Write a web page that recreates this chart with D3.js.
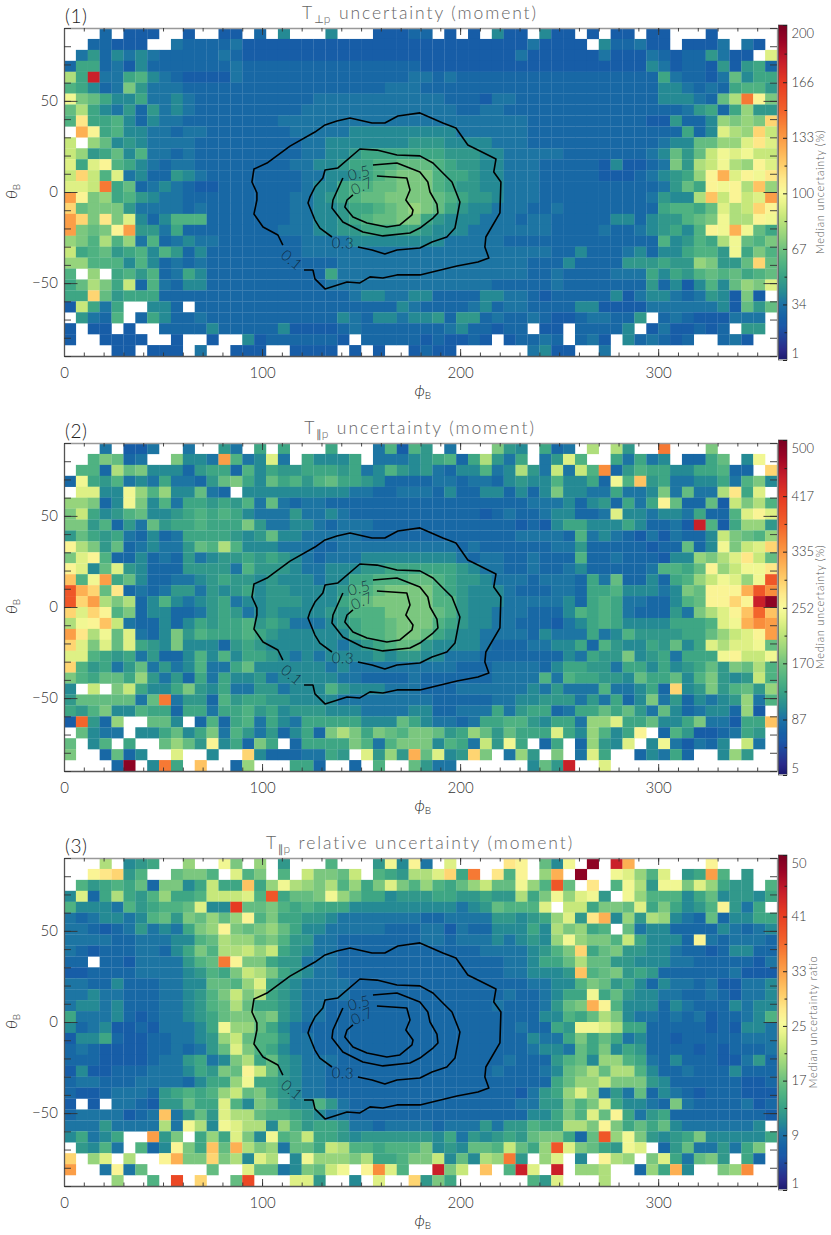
<!DOCTYPE html>
<html>
<head>
<meta charset="utf-8">
<title>Proton temperature uncertainty maps</title>
<script src="https://cdn.jsdelivr.net/npm/d3@7"></script>
<style>
  body { margin: 0; background: #fff; }
  text { font-family: Lato, "Open Sans", sans-serif; font-weight: 300; }
</style>
</head>
<body>
<div id="chart"></div>
<script>
// Each row is one theta bin, top (+90) to bottom (-90), 60 phi bins of 6 deg.
// A character is a reading off the colour bar, base 36, 0 = bottom of bar, z = top. '.' = no data.
const perpRows = [
  "...5.444..4..44.5.7...7...4445 5.4.4.744.744.4.44.44...4.....",
  "..55444..655556444444444444444 44444444464444.755644.4446.64.",
  ".68576765555565444444444444444 4444444464444446444654558644.g",
  "59956475555555 6 555555555555555 4444444444444444444 76455484895",
  "e9v669a765 4444 6 555555555555556 656 55555555555555555 96554 6b799",
  "a9756c8666 55555555555555555666 55555555555555555555 7765659aa8",
  "hcb97796676 5555555555666666666 66555466555555555555 77765bepic",
  "be97685867 6 5555555556666666666 66655665555555555555 5568959d88",
  "aj99a75766 55555555666666666666 66666666655555555554 48557dcdck",
  ".mi9a77665 66555 555566666777777 77766666655555555555 55957gedkf",
  "f.db7876666 5555 555556677777778 88777766655555555555 677bbddgjg",
  "fd89b7a665 65555 555556677899999 99888776666655555556 7b8bfhghff",
  "g9gia976566 5555 55556677899aabb ba98877666 5555547445 6c8efhedig",
  "fkfag6755876555 55555667789abcc ca99877666 5555544456 789dimgihj",
  "ggfp9b5676 54455 555556779aabbcc ca98877666 5555555555 68b9ihield",
  "nicd9a8766 55555 555566789abbccc cba9887666 5555555556 877elfifgn",
  "kbccc86666 565 5555556677899abcd cb98776665 5655555555 9aa9bgefki",
  "nkcjcg757a aa55 55555667789abbcc 9877766656 6555557757 88abcheeih",
  "ncbcin8869 5555 5555666778899999 8777666666 6555565567 897aihmhb9",
  "dcaead6a56 7665 5555556666777777 7766666555 5555555555 a78a9ehbac",
  "f9ab89a7a8 575 5555555 6666666666 6666666666 6557555675 779aa8h9ca",
  "ddaaa7a756 565 5555555555 6666666 6666666665 5575555888 988dc88bkb",
  "a.d.9a8a56 97 5555555555 9 6666666 6666666665 5655556669 798abab9ab",
  "9bec9f5a65 77 5555555555 66666666 6666665555 5655555558 5747a7bdcg",
  "99kb899955 55 555555555555 677667 7555577665 4555557467 7656874c4.",
  "4f969..775 .55 555555555555555 76 5555675665 5557744446 6666674b8b",
  ".865a.5975 565 5555555555 7657767 7858856556 544566558. 565444666.",
  "4.44.4..55 5575555574 4445655555 556755455. 44.55557.4 644545.88.",
  "4..4444..4 ..4..74555 5554.55555 454454.455 65.564.756 545..564..",
  "....44.444 .6..444..4 444.4.4..4 544......6 744..6.... .........."
];
const paraRows = [
  "...6.446..6..86.9.9...9...6a4a 8.6...c87.956.e.e8..p...c.....",
  "..acb56..c776na67g6.97779.6667 89a59e869.68ga..96967.559b.7h.",
  ".aa5ebc777 58995a7988 9998967a87 86577a67e8 6f6fao58a9 97799a55.k",
  "5h98a67696 658bc97b9a 8ab9987555 5665665787 7a7795hal8 9667796ac7",
  ".gg77hdad7 7b65.77777 7777665566 6575577575 7c77669667 c6b66ej9g.",
  "ddc57hc7a6 99898a6b65 6655555555 5555555556 6675785969 ib55b4fcea",
  "cf978ab778 9a9a976668 6676555555 5555545655 677556g776 776955agig",
  "cc8a586b89 9a999c8667 7656665555 5555555545 4799777975 564va49dd8",
  "8b98965756 9999878b77 6666655555 5555555566 665a676546 46557fcbad",
  "iec8b56766 8baea77766 6556666666 6665655555 5668555554 55b57hcfgk",
  "cgia557565 8678898987 6566677777 7776566556 555a556555 477dcegjfb",
  "ig7bg87555 88886a8887 6677788999 9998766556 5567555556 aa9bidfhhj",
  "lahn9b7556 6789887877 767799aaab ba98876665 666596b557 59adfhgdhr",
  "rmkbj56568 8687897887 7778aabccc ca98777655 566599a777 67cbiiimro",
  "rknece57a7 6789677888 7779abcccc caa8777666 66759a9665 57abiikivy",
  "kgkiac5775 5689867877 7788aaaccc cba8776665 557a9a9655 586cegilql",
  "ehilf65575 79899a8986 66789aabcc ca98776655 54679a9777 7999aghmon",
  "njehbg657c 8a999a9877 77779aabcc b987766665 7666967a88 8899bdfgin",
  "kgcgbg987c 7775898777 7776789abb 8777765556 67795a8779 8b79gegghb",
  "gga9896855 7a7a799876 7677778788 7766655555 5576988c78 96999hiffh",
  "ka8968b686 7a669b7777 7767666666 6665556666 5799886997 9789b8cbea",
  "ca9bb9d868 5969778677 7776655556 5555556666 a6a99887b9 9b7ac878fa",
  "7.f.cf9779 c879668867 77a8777666 5556666667 68666a6679 5k78c8ab8d",
  "8bbbbb6bp6 885a899887 7776666666 6555556677 888686957c 6857678d6a",
  "98ac77a995 99699a8978 8877766667 7556669689 95699b9b86 b756775d4.",
  "4q85d..bb7 .5a59a6976 99999777b9 7665699aa8 7996ddg99b 779c66499l",
  ".b766.779b 79c6a86857 95cec9cbac cb89db8b99 9g97da79i. 5a8445698.",
  "b.7a.9..bd b8i795c9.5 9999ca6acc c7a96f8h9. 59.5d87g.7 h64657.f6.",
  "c..5b57..g ..7..k7555 6698.g8d8m bg78kc.6d8 .c.6g9..57 695..7d8..",
  "....5y.7p9 .l..5d...9 95..5.a..b 866......7 b8v..g.... .........."
];
const ratioRows = [
  "...e.789..d..hc.d.8...a...8h7i 6.g....ji.b7h.y.vm......i.....",
  "..ijk8a..b cca.gac.a. fccbf.a98e egk9p.jai. dm.y..hgda g.89na.8..",
  ".a89a9b5cc 79f99l9dhe dcead9cgca da9bdfbbhd arb.j.ahe8 hhcgd988.a",
  "7g59e98ad9 9afffgar9b bchdb99788 89988988e9 chdgh8.hda aa79b78879",
  "a7776a89aa bg77tbbca9 a999777777 777678baaa g.ff9ccbg9 c978ai869.",
  "6567767ab8 cbdbdiac99 8876666666 5566668878 9dg8jm7d8e d765b57799",
  "6654568676 9cdicbcdb9 7766666555 6646557779 7ecd9a.b67 7555576567",
  "6666556667 7abeddbca8 8665555555 6656667678 7dhdccaf97 775i656665",
  "6545556657 9caeefdf98 7665555555 5555566667 8ack9bc887 7655457755",
  "55.5546666 8abpicc988 6665555555 5555555667 99bebb8877 7665555546",
  "4455556666 78a9cfec98 7665555555 5555555667 778labc898 5555556444",
  "6655755566 77bbadg987 6666555555 5555555556 677acb8975 7665644667",
  "6676655566 78acfce987 6666555555 5555555655 6799h9b877 6655654667",
  "6776755566 78abeb9987 6655555555 5555556555 68bcmia777 5765557677",
  "9666754566 789bccbc87 6655555555 5555555555 77a9bec766 565645567a",
  "7567445466 679hddb976 5555555555 5555555565 598hhge995 5555454776",
  "4779544556 678dfbaa86 6555555555 5555555557 669c9b9675 5455555666",
  "5654444556 568bgca976 6555555555 5555555556 776b9c7985 5554545556",
  "5554444566 8967ce9b87 6665555555 5555555655 58ab7dda96 5755544685",
  "4744555666 798cbifb87 6655555555 5555556555 67bcebeea7 5565557555",
  "5665556666 5799dh9987 6655555555 5555555555 59bddfccc8 7555555445",
  "5445666589 a9adfbc987 6655555555 5555555546 89dgd686b5 7654555444",
  "4.4.665488 b99ga7cb87 7a86555555 5555555566 88cacg9776 5c65555645",
  "56666456l6 8b8geebaa9 8766555555 5555555557 79cagbi968 9555555554",
  "66686666e6 he7hgee7da 8998665666 656668688a 99eecic9b9 b76666667.",
  "79679..n8c .9d9gc7hab f998788888 879687898b cc95brdhc8 789c777779",
  ".87a6.a57i c9lbmecd6b b9feaa9aaa c787bbafb9 drgcb98hg. 58b66869c.",
  "k.dg.e..im cckce7ge.7 hdddce99ac cf7b7edp8. dg.7.ied.c g96bc8.95.",
  "n..6i6b... ..b..gbb67 cbfh.ioga. .vcf.l.avg .v.dde..5d 9m7..cdo..",
  "....d..a.s .k..bs...g g8..7.g..k 8c9......a 8g...e.... .........."
];

// contour levels as [phi, theta]
const contour01 = [[121.2,-42.8],[125.7,-42.8],[126.7,-47.7],[131.8,-53.2],[142.9,-49.4],[149.4,-49.9],[154.5,-46.6],[161,-47.2],[168.1,-45.5],[179.7,-45.5],[198.4,-40.6],[209,-38.4],[214.5,-36.2],[212.5,-30.2],[213,-24.7],[220.1,-11.5],[220.6,5.5],[217,11],[218.1,18.1],[209,23],[203.9,25.8],[197.9,35.1],[191.3,37.9],[179.7,43.4],[168.6,41.7],[162,37.9],[155.5,37.9],[144.4,40.6],[137.8,39],[131.8,36.8],[126.7,32.9],[114.1,25.2],[102.5,15.9],[95.9,12.6],[94.9,5.5],[97.4,-0.5],[97.4,-4.4],[95.9,-12.1],[100.5,-19.2],[108,-23.6],[110.5,-29.1]];
const contour03 = [[135.3,-24.7],[129.2,-19.8],[126.7,-15.4],[123.2,-6],[124.2,-2.7],[126.7,2.7],[130.7,7.7],[131.8,12.1],[138.3,13.2],[149.4,23.6],[158,23],[168.1,20.3],[179.7,19.8],[186.3,15.9],[191.3,10.4],[195.9,5.5],[199.9,-5.5],[197.4,-19.8],[193.3,-24.7],[185.8,-27.4],[179.7,-30.7],[168.1,-31.8],[162,-34],[155.5,-31.8],[148.4,-30.2]];
const contour05 = [[156,14.8],[168.1,15.9],[179.7,11],[183.7,5.5],[184.8,0],[188.3,-6.6],[188.8,-11.5],[186.3,-14.3],[179.7,-19.8],[174.7,-22.5],[161,-24.1],[150.9,-22],[140.8,-16.5],[135.3,-8.8],[135.8,-4.4],[140.8,7.7]];
const contour07 = [[158,8.8],[173.1,7.7],[174.7,1.1],[172.6,-4.4],[176.2,-9.9],[175.7,-12.6],[169.6,-18.1],[163,-19.2],[153,-17],[145.9,-13.7],[141.8,-8.2],[142.9,-4.4],[145.9,-1.6]];
const contourLabels = ["0.1", "0.3", "0.5", "0.7"];
const contourLabelAt = [[115, -37.3, 40], [140.8, -28, 2], [148.9, 10.4, -15], [150.4, 3.3, -25]];

const phiLabels = [0, 100, 200, 300];
const thetaLabels = [-50, 0, 50];
const perpTicks = [1, 34, 67, 100, 133, 166, 200];
const paraTicks = [5, 87, 170, 252, 335, 417, 500];
const ratioTicks = [1, 9, 17, 25, 33, 41, 50];

const tags = ["(1)", "(2)", "(3)"];
const titleHead = ["\u22A5", "\u2225", "\u2225"];
const titleTail = [" uncertainty (moment)", " uncertainty (moment)", " relative uncertainty (moment)"];
const barTitles = ["Median uncertainty (%)", "Median uncertainty (%)", "Median uncertainty ratio"];

const width = 831;
const height = 1235;
const panelTop = [28, 443, 858];
const barTitleX = [824, 824, 817];
const plotW = { left: 64, right: 777 };
const plotH = 328;

// colour bar stops, as a fraction of the bar
const colourAt = [0, .03, .1, .125, .17, .2, .25, .29, .33, .37, .43, .47, .5, .54, .58, .63, .69, .75, .83, .89, .95, 1];
const colours = ['#1c1a6e', '#2a2a8a', '#1a58a8', '#1560a6', '#1d74a4', '#258a94', '#3aa385', '#52b482', '#6fc180', '#95d37c', '#c8e87b', '#e9f48a', '#f8fa9b', '#fee98a', '#fed06c', '#fdaf52', '#f98a3a', '#f2602a', '#e63a22', '#c81e2a', '#9d0526', '#7a0022'];
const colour = d3.scaleLinear().domain(colourAt).range(colours).clamp(true);

const svg = d3.select('#chart').append('svg')
    .attr('width', width)
    .attr('height', height)
    .style('display', 'block');

const x = d3.scaleLinear().domain([0, 360]).range([plotW.left, plotW.right]);
const line = d3.line();

const panels = [
    { rows: perpRows, ticks: perpTicks },
    { rows: paraRows, ticks: paraTicks },
    { rows: ratioRows, ticks: ratioTicks }
];

panels.forEach((panel, p) => {
    const top = panelTop[p];
    const y = d3.scaleLinear().domain([-90, 90]).range([top + plotH, top]);
    const lo = panel.ticks[0];
    const hi = panel.ticks[panel.ticks.length - 1];
    const toBar = d3.scaleLinear().domain([lo, hi]).range([0, 1]);

    // decode the readings to values in the panel's units
    const cells = [];
    panel.rows.forEach((row, r) => {
        Array.from(row.replace(/ /g, '')).forEach((c, i) => {
            if (c === '.') return;
            cells.push({
                phi: i * 6,
                theta: 90 - r * 6,
                value: lo + (hi - lo) * parseInt(c, 36) / 35
            });
        });
    });

    const g = svg.append('g');

    // small overlap so only a faint seam is left between cells
    g.append('g')
        .selectAll('rect')
        .data(cells)
        .join('rect')
        .attr('x', d => x(d.phi))
        .attr('y', d => y(d.theta))
        .attr('width', d => x(d.phi + 6) - x(d.phi) + 0.2)
        .attr('height', d => y(d.theta - 6) - y(d.theta) + 0.2)
        .attr('fill', d => colour(toBar(d.value)));

    // contours
    const scaled = pts => pts.map(d => [x(d[0]), y(d[1])]);
    [contour01, contour03, contour05, contour07].forEach(c => {
        g.append('path')
            .attr('d', line(scaled(c)))
            .attr('fill', 'none')
            .attr('stroke', '#000')
            .attr('stroke-width', 1.6)
            .attr('stroke-linejoin', 'round');
    });
    contourLabelAt.forEach((d, i) => {
        g.append('text')
            .attr('transform', `translate(${x(d[0])},${y(d[1])}) rotate(${d[2]})`)
            .attr('text-anchor', 'middle')
            .attr('dy', '0.35em')
            .attr('font-size', 15)
            .attr('letter-spacing', 0.5)
            .attr('fill', '#123')
            .attr('fill-opacity', 0.85)
            .text(contourLabels[i]);
    });

    // axes on all four sides, ticks pointing in
    const phiMinor = d3.range(0, 361, 10);
    const thetaMinor = d3.range(-90, 91, 10);
    const styleAxis = (sel, lineColour) => {
        sel.select('.domain').attr('stroke', lineColour).attr('stroke-width', 1.3);
        sel.selectAll('.tick line').attr('stroke', '#333').attr('stroke-width', 0.9);
        sel.selectAll('text').attr('font-family', null).attr('font-size', 15).attr('fill', '#333');
    };
    const axisSet = [
        { make: d3.axisBottom, scale: x, at: `translate(0,${top + plotH})`, colour: '#555', minor: phiMinor, major: phiLabels, long: 7, short: 3.5 },
        { make: d3.axisTop, scale: x, at: `translate(0,${top})`, colour: '#999', minor: phiMinor, major: phiLabels, long: 7, short: 3.5 },
        { make: d3.axisLeft, scale: y, at: `translate(${plotW.left},0)`, colour: '#555', minor: thetaMinor, major: thetaLabels, long: 13.5, short: 7 },
        { make: d3.axisRight, scale: y, at: `translate(${plotW.right},0)`, colour: '#999', minor: thetaMinor, major: thetaLabels, long: 13.5, short: 7 }
    ];
    axisSet.forEach((a, i) => {
        g.append('g').attr('transform', a.at)
            .call(a.make(a.scale).tickValues(a.minor).tickSize(-a.short).tickSizeOuter(0).tickFormat(''))
            .call(s => styleAxis(s, a.colour));
        const major = g.append('g').attr('transform', a.at)
            .call(a.make(a.scale).tickValues(a.major).tickSize(-a.long).tickSizeOuter(0).tickPadding(i === 0 ? 11 : 6)
                .tickFormat(i === 0 ? d3.format('d') : i === 2 ? (d => String(d).replace('-', '\u2212')) : ''))
            .call(s => styleAxis(s, a.colour));
        major.select('.domain').remove();
    });

    // axis titles
    g.append('text')
        .attr('x', x(180) - 6)
        .attr('y', top + plotH + 40)
        .attr('font-size', 16)
        .attr('fill', '#222')
        .call(t => {
            t.append('tspan').attr('font-style', 'italic').text('\u03D5');
            t.append('tspan').attr('dy', 3).attr('font-size', 10).text('B');
        });
    g.append('text')
        .attr('transform', `translate(17,${y(0) + 7}) rotate(-90)`)
        .attr('font-size', 16)
        .attr('fill', '#222')
        .call(t => {
            t.append('tspan').attr('font-style', 'italic').text('\u03B8');
            t.append('tspan').attr('dy', 3).attr('font-size', 10).text('B');
        });

    // panel title and tag
    g.append('text')
        .attr('x', 420)
        .attr('y', top - 9)
        .attr('text-anchor', 'middle')
        .attr('font-size', 17.5)
        .attr('letter-spacing', 1.9)
        .attr('fill', '#666')
        .call(t => {
            t.append('tspan').text('T');
            t.append('tspan').attr('dy', 4).attr('font-size', 11)
                .style('font-family', '"DejaVu Sans"').style('font-weight', 400)
                .attr('letter-spacing', 0).text(titleHead[p]);
            t.append('tspan').attr('font-size', 12).text('p');
            t.append('tspan').attr('dy', -4).attr('xml:space', 'preserve').text(titleTail[p]);
        });
    g.append('text')
        .attr('x', 65)
        .attr('y', top - 5)
        .attr('font-size', 19)
        .attr('letter-spacing', 0.5)
        .attr('fill', '#222')
        .text(tags[p]);

    // colour bar
    const barX = 778.5;
    const barW = 8.5;
    const bar = d3.scaleLinear().domain([lo, hi]).range([top + 332, top - 3]);
    g.append('g')
        .selectAll('rect')
        .data(d3.range(0, 334))
        .join('rect')
        .attr('x', barX)
        .attr('y', d => top - 3 + d)
        .attr('width', barW)
        .attr('height', 1.2)
        .attr('fill', d => colour(1 - d / 334));
    g.append('rect')
        .attr('x', barX).attr('y', top - 3)
        .attr('width', barW).attr('height', 335)
        .attr('fill', 'none').attr('stroke', '#333').attr('stroke-width', 0.6);

    const minorAt = d3.pairs(panel.ticks).map(d => (d[0] + d[1]) / 2);
    g.append('g').attr('transform', `translate(${barX + barW},0)`)
        .call(d3.axisRight(bar).tickValues(minorAt).tickSize(-2.5).tickSizeOuter(0).tickFormat(''))
        .call(s => s.select('.domain').remove())
        .call(s => s.selectAll('line').attr('stroke', '#222'));
    const barAxis = g.append('g').attr('transform', `translate(${barX + barW},0)`)
        .call(d3.axisRight(bar).tickValues(panel.ticks).tickSize(-4).tickSizeOuter(0).tickPadding(4.5))
        .call(s => s.select('.domain').remove())
        .call(s => s.selectAll('line').attr('stroke', '#222'));
    barAxis.selectAll('text')
        .attr('font-family', null)
        .attr('font-size', 13)
        .attr('fill', '#333')
        .attr('dy', d => d === hi ? '0.95em' : d === lo ? '-0.2em' : '0.32em');

    g.append('text')
        .attr('transform', `translate(${barTitleX[p]},${y(0)}) rotate(-90)`)
        .attr('text-anchor', 'middle')
        .attr('font-size', 11)
        .attr('letter-spacing', 0.7)
        .attr('fill', '#555')
        .text(barTitles[p]);
});
</script>
</body>
</html>
